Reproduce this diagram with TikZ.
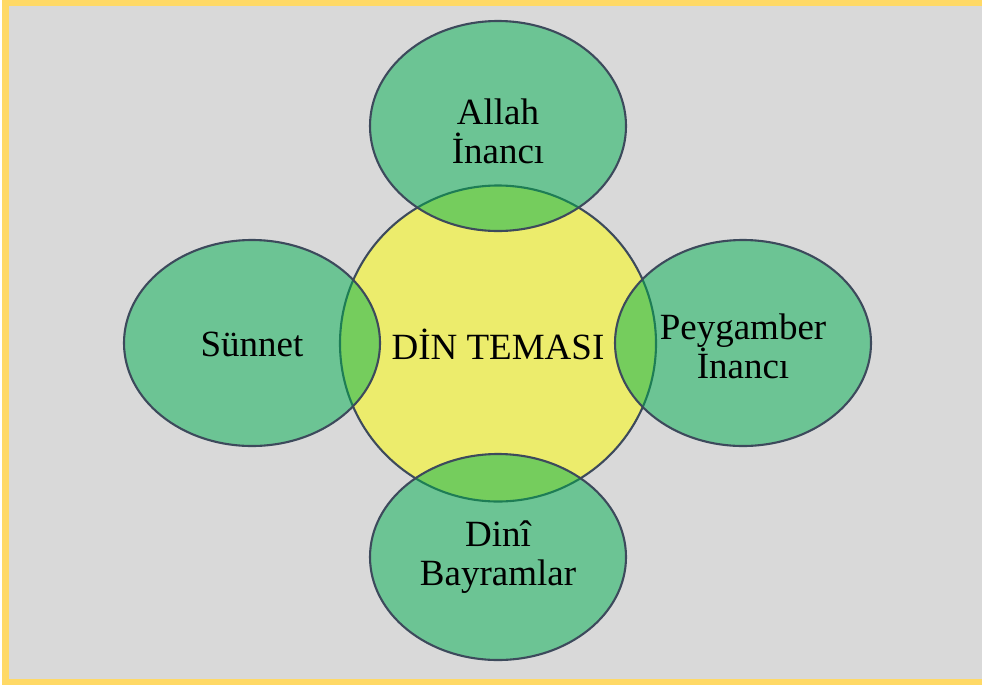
\documentclass[tikz,border=0pt]{standalone}
\usepackage{fontspec}
\setmainfont{Liberation Serif}
\definecolor{frameyellow}{HTML}{FFD966}
\definecolor{panelgrey}{HTML}{D9D9D9}
\definecolor{themegreen}{HTML}{00B050}
\definecolor{centreyellow}{HTML}{FFFF00}
\definecolor{outline}{HTML}{3D4A5C}
\tikzset{
  lbl/.style={font=\fontsize{37}{39}\selectfont, align=center, text=black, inner sep=0pt},
  petal/.style={draw=outline, line width=2.1pt, fill=themegreen, fill opacity=0.5},
  hub/.style={draw=outline, line width=2.1pt, fill=centreyellow, fill opacity=0.5},
}
\begin{document}
\begin{tikzpicture}[x=1pt,y=-1pt]
  \useasboundingbox (0,0) rectangle (982,686);
  % frame and panel
  \fill[white] (0,0) rectangle (982,686);
  \fill[frameyellow] (2,0) rectangle (982,685);
  \fill[panelgrey] (9,6) rectangle (982,679);
  % central circle
  \path[hub] (498,343.5) circle[radius=158];
  % four surrounding ellipses
  \path[petal] (498,126) ellipse[x radius=128, y radius=105];
  \path[petal] (252,343) ellipse[x radius=128, y radius=103];
  \path[petal] (743,343) ellipse[x radius=128, y radius=103];
  \path[petal] (498,557) ellipse[x radius=128, y radius=103];
  % labels
  \node[lbl] (hubtext) at (498,344) {DİN TEMASI};
  \node[lbl] (toptext) at (498,131) {Allah\\İnancı};
  \node[lbl] (lefttext) at (252,344) {Sünnet};
  \node[lbl] (righttext) at (743,346) {Peygamber\\İnancı};
  \node[lbl] (bottomtext) at (498,557) {Dinî\\Bayramlar};
\end{tikzpicture}
\end{document}
